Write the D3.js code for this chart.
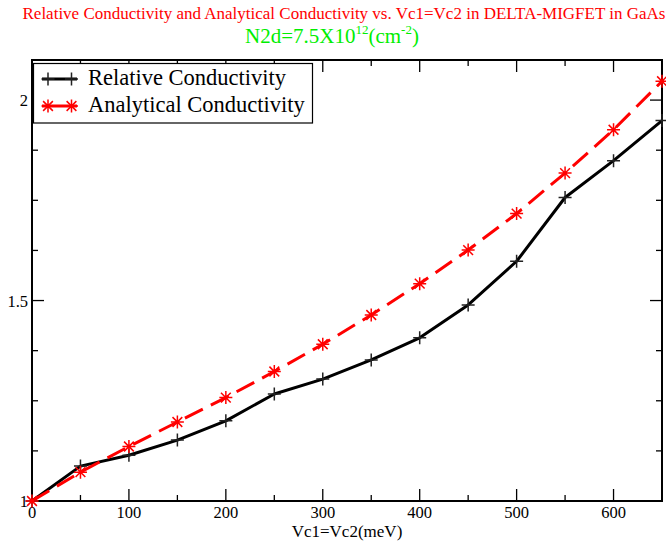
<!DOCTYPE html>
<html><head><meta charset="utf-8">
<script src="https://cdn.jsdelivr.net/npm/d3@7"></script>
<style>body{margin:0;background:#fff}svg{display:block}text{font-family:"Liberation Serif","Times New Roman",serif}</style>
</head><body>
<script>
const xValues = [0, 50, 100, 150, 200, 250, 300, 350, 400, 450, 500, 550, 600, 650];
const relative = [1.0, 1.087, 1.114, 1.152, 1.200, 1.267, 1.304, 1.352, 1.407, 1.489, 1.598, 1.757, 1.849, 1.949];
const analytical = [1.0, 1.072, 1.136, 1.197, 1.258, 1.323, 1.391, 1.464, 1.542, 1.626, 1.717, 1.818, 1.926, 2.047];
const xTicks = [0, 100, 200, 300, 400, 500, 600];
const yTicks = [1, 1.5, 2];
const seriesNames = ["Relative Conductivity", "Analytical Conductivity"];

const W = 666, H = 544;
const m = {left: 32, right: 4, top: 60, bottom: 43};
const svg = d3.select("body").append("svg").attr("width", W).attr("height", H);
const x = d3.scaleLinear().domain([0, 650]).range([m.left, W - m.right]);
const y = d3.scaleLinear().domain([1, 2.1]).range([H - m.bottom, m.top]);
const x0 = m.left, x1 = W - m.right, y0 = H - m.bottom, y1 = m.top;

// titles
svg.append("text").attr("x", 344).attr("y", 18.5).attr("text-anchor", "middle")
  .attr("fill", "#ff0000").style("font-size", "17px")
  .text("Relative Conductivity and Analytical Conductivity vs. Vc1=Vc2 in DELTA-MIGFET in GaAs");
const sub = svg.append("text").attr("x", 245).attr("y", 43)
  .attr("fill", "#00ee00").style("font-size", "21px");
sub.append("tspan").text("N2d=7.5X10");
sub.append("tspan").attr("dy", -9).style("font-size", "13px").text("12");
sub.append("tspan").attr("dy", 9).text("(cm");
sub.append("tspan").attr("dy", -9).style("font-size", "13px").text("-2");
sub.append("tspan").attr("dy", 9).text(")");

// axes ticks (inward, mirrored)
const g = svg.append("g");
const xMinor = d3.range(0, 651, 50);
const yMinor = d3.range(1, 2.101, 0.125);
xMinor.forEach(v => {
  const major = v % 100 === 0;
  const len = major ? 12 : 6;
  g.append("line").attr("x1", x(v)).attr("x2", x(v)).attr("y1", y0).attr("y2", y0 - len).attr("stroke", "#000").attr("stroke-width", 1.3);
  g.append("line").attr("x1", x(v)).attr("x2", x(v)).attr("y1", y1).attr("y2", y1 + len).attr("stroke", "#000").attr("stroke-width", 1.3);
});
yMinor.forEach(v => {
  const major = Math.abs(v * 2 - Math.round(v * 2)) < 1e-6;
  const len = major ? 12 : 6;
  g.append("line").attr("y1", y(v)).attr("y2", y(v)).attr("x1", x0).attr("x2", x0 + len).attr("stroke", "#000").attr("stroke-width", 1.3);
  g.append("line").attr("y1", y(v)).attr("y2", y(v)).attr("x1", x1).attr("x2", x1 - len).attr("stroke", "#000").attr("stroke-width", 1.3);
});
g.append("rect").attr("x", x0).attr("y", y1).attr("width", x1 - x0).attr("height", y0 - y1)
  .attr("fill", "none").attr("stroke", "#000").attr("stroke-width", 2);

xTicks.forEach(v => {
  svg.append("text").attr("x", x(v)).attr("y", y0 + 17).attr("text-anchor", "middle")
    .style("font-size", "16.5px").attr("fill", "#000").text(v);
});
yTicks.forEach(v => {
  svg.append("text").attr("x", x0 - 4).attr("y", y(v) + 6).attr("text-anchor", "end")
    .style("font-size", "16.5px").attr("fill", "#000").text(v);
});
svg.append("text").attr("x", 347).attr("y", y0 + 36).attr("text-anchor", "middle")
  .style("font-size", "17px").attr("fill", "#000").text("Vc1=Vc2(meV)");

// data
const line = d3.line().x(d => x(d[0])).y(d => y(d[1]));
const relPts = xValues.map((v, i) => [v, relative[i]]);
const anaPts = xValues.map((v, i) => [v, analytical[i]]);
const plot = svg.append("g");
plot.append("path").datum(relPts).attr("d", line).attr("fill", "none").attr("stroke", "#000").attr("stroke-width", 3).attr("stroke-linejoin", "round");
plot.append("path").datum(anaPts).attr("d", line).attr("fill", "none").attr("stroke", "#ff0000").attr("stroke-width", 3).attr("stroke-dasharray", "20,9");

function plus(sel, cx, cy, r, col) {
  sel.append("path").attr("d", `M${cx - r},${cy}H${cx + r}M${cx},${cy - r}V${cy + r}`)
    .attr("stroke", col).attr("stroke-width", 1.5).attr("fill", "none");
}
function star(sel, cx, cy, r, col) {
  const d = r * 0.75;
  sel.append("path").attr("d", `M${cx - r},${cy}H${cx + r}M${cx},${cy - r}V${cy + r}M${cx - d},${cy - d}L${cx + d},${cy + d}M${cx - d},${cy + d}L${cx + d},${cy - d}`)
    .attr("stroke", col).attr("stroke-width", 1.5).attr("fill", "none");
}
relPts.forEach(p => plus(plot, x(p[0]), y(p[1]), 6.5, "#222"));
anaPts.forEach(p => star(plot, x(p[0]), y(p[1]), 6.5, "#ff0000"));

// legend
const lg = svg.append("g");
lg.append("rect").attr("x", 33.5).attr("y", 63.5).attr("width", 279).attr("height", 59.5)
  .attr("fill", "#fff").attr("stroke", "#000").attr("stroke-width", 1.2);
lg.append("line").attr("x1", 42).attr("x2", 77).attr("y1", 79).attr("y2", 79).attr("stroke", "#000").attr("stroke-width", 3);
plus(lg, 48, 79, 6.5, "#222"); plus(lg, 71.5, 79, 6.5, "#222");
lg.append("line").attr("x1", 42).attr("x2", 77).attr("y1", 106).attr("y2", 106).attr("stroke", "#ff0000").attr("stroke-width", 3);
star(lg, 48, 106, 6.5, "#ff0000"); star(lg, 71.5, 106, 6.5, "#ff0000");
lg.append("text").attr("x", 88).attr("y", 85).style("font-size", "22.5px").attr("fill", "#000").text(seriesNames[0]);
lg.append("text").attr("x", 88).attr("y", 112).style("font-size", "22.5px").attr("fill", "#000").text(seriesNames[1]);
</script>
</body></html>
